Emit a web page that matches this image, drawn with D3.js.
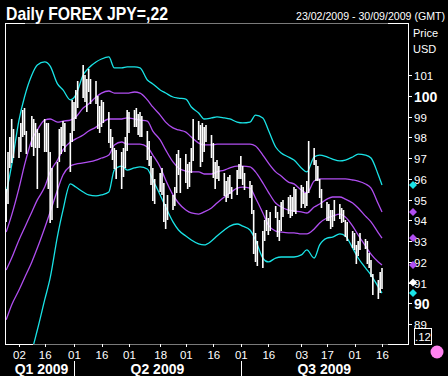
<!DOCTYPE html>
<html><head><meta charset="utf-8">
<script src="https://cdn.jsdelivr.net/npm/d3@7"></script>
<style>body{margin:0;background:#000;}svg{display:block;font-family:"Liberation Sans",Arial,sans-serif;}</style>
</head><body><svg id="c" width="448" height="376"></svg>
<script>
// ---- data ----
const title = "Daily FOREX JPY=,22";
const rangeText = "23/02/2009 - 30/09/2009 (GMT)";
const startDate = "2009-02-23";
const endDate = "2009-09-16";
const highs = [95.5,97.3,98.0,98.9,98.4, 98.0,98.7,99.3,99.4,98.3, 99.0,98.9,98.7,98.4,98.2, 98.9,98.7,98.7,97.3,96.5,
 96.8,98.4,98.5,98.8,98.7, 98.2,99.8,99.7,100.3,100.7, 101.5,101.0,100.8,101.3,100.8, 100.7,100.0,99.5,99.8,99.7,
 99.2,98.4,98.0,97.5,97.4, 97.3,97.5,98.0,99.3,99.2, 99.3,99.4,99.1,99.2,99.0, 98.3,97.8,97.1,96.5,96.0,
 96.3,96.5,95.8,94.8,95.2, 95.2,95.6,97.2,97.4,97.0, 97.2,96.7,96.8,97.5,98.9, 98.8,98.6,98.7,98.5,98.6,
 98.1,97.7,96.8,96.9,96.6, 96.3,95.9,96.1,96.2,95.6, 96.4,96.7,97.1,96.6,96.3, 95.9,95.7,94.5,93.4,93.0,
 93.5,94.0,94.5,94.1,94.4, 94.7,94.4,94.0,94.9,95.0, 95.1,95.2,95.1,95.6,95.5, 95.7,95.6,95.3,95.9,97.8,
 97.5,96.9,96.6,96.0,95.5, 94.9,94.8,94.5,94.5,95.0, 94.8,94.6,94.5,94.0,93.9, 93.5,93.4,92.8,93.0,93.4,
 93.1,93.0,92.4,92.1,91.4, 91.1,91.5,91.7];
const lows = [93.9,94.8,96.5,96.8,97.0, 97.0,97.3,98.0,98.1,97.2, 97.5,97.1,97.5,95.5,97.5, 97.3,97.3,95.5,93.9,94.0,
 94.6,96.8,97.2,97.6,97.3, 96.3,97.8,98.3,98.9,99.4, 99.9,99.7,99.2,100.2,99.6, 99.6,98.4,98.2,98.5,98.7,
 97.7,97.5,96.9,96.5,96.0, 95.5,96.1,96.5,97.3,98.2, 98.5,98.5,98.1,98.0,98.0, 96.9,96.6,95.7,94.9,94.8,
 95.4,95.2,93.9,93.6,94.0, 94.5,94.7,95.3,96.2,95.3, 95.8,95.5,95.6,96.3,96.9, 97.9,96.6,96.8,97.3,97.8,
 97.0,96.0,95.5,96.0,95.9, 95.2,94.9,95.1,95.3,95.0, 95.2,96.0,96.0,95.7,95.5, 95.1,94.3,92.4,92.0,91.8,
 91.7,93.0,93.5,93.3,93.5, 94.1,93.2,93.0,93.5,94.2, 94.3,94.1,94.2,94.4,94.3, 94.6,94.8,94.6,94.7,95.3,
 96.7,95.9,95.9,95.1,94.6, 94.0,94.0,93.6,93.7,94.0, 94.1,93.9,93.9,93.2,93.0, 92.7,92.6,91.9,92.3,92.6,
 92.6,91.9,91.7,91.3,90.4, 90.2,90.5,90.7];
const lastClose = 91.0;
const bandDates = ["2009-02-23","2009-02-26","2009-03-02","2009-03-05","2009-03-09","2009-03-12","2009-03-16","2009-03-19","2009-03-23","2009-03-26",
 "2009-03-30","2009-04-02","2009-04-06","2009-04-09","2009-04-13","2009-04-16","2009-04-20","2009-04-23","2009-04-27","2009-04-30",
 "2009-05-04","2009-05-07","2009-05-11","2009-05-14","2009-05-18","2009-05-21","2009-05-25","2009-05-28","2009-06-01","2009-06-04",
 "2009-06-08","2009-06-11","2009-06-15","2009-06-18","2009-06-22","2009-06-25","2009-06-29","2009-07-02","2009-07-06","2009-07-09",
 "2009-07-13","2009-07-16","2009-07-20","2009-07-23","2009-07-27","2009-07-30","2009-08-03","2009-08-06","2009-08-10","2009-08-13",
 "2009-08-17","2009-08-20","2009-08-24","2009-08-27","2009-08-31","2009-09-03","2009-09-07","2009-09-10","2009-09-14","2009-09-16"];
const upperOuter = [95.30,96.66,98.83,99.94,101.0,101.48,101.63,101.43,100.57,100.28, 99.80,100.04,101.0,101.34,101.63,101.77,101.87,101.34,101.34,101.39,
 101.39,101.34,100.76,100.57,100.28,100.13,99.94,99.89,99.84,99.46, 99.17,98.88,98.93,98.98,98.93,98.88,98.73,98.69,98.73,99.07,
 98.93,98.35,97.53,97.24,97.05,96.90,96.52,96.33,97.05,97.14, 97.05,96.95,96.86,96.90,97.05,97.19,97.14,97.0,96.18,95.70];
const upperInner = [93.43,94.25,95.55,96.66,97.87,98.35,98.83,98.88,98.73,98.78, 98.83,98.98,99.41,99.60,99.94,100.13,100.23,100.13,100.13,100.13,
 100.18,100.13,99.80,99.46,99.07,98.73,98.45,98.35,98.25,98.01, 97.72,97.63,97.63,97.67,97.67,97.67,97.67,97.67,97.67,97.58,
 97.14,96.76,96.33,96.13,95.84,95.75,95.46,95.31,95.89,95.99, 95.99,95.99,95.99,95.99,95.94,95.89,95.75,95.55,94.78,94.40];
const middle = [91.60,92.18,93.05,93.63,94.40,94.98,95.60,96.33,96.90,97.39, 97.77,97.92,98.11,98.30,98.49,98.69,98.88,98.88,98.88,98.93,
 98.88,98.83,98.78,98.30,97.87,97.39,96.81,96.52,96.37,96.33, 96.33,96.23,96.23,96.33,96.42,96.52,96.61,96.61,96.57,96.33,
 95.80,95.36,94.83,94.64,94.49,94.45,94.40,94.35,94.64,94.78, 95.02,95.12,95.12,95.02,94.83,94.59,94.20,93.92,93.39,93.14];
const lowerInner = [89.20,89.92,90.64,91.22,91.99,92.66,93.63,94.40,95.46,96.18, 96.61,96.71,96.76,96.81,96.90,97.0,97.14,97.63,97.77,97.67,
 97.67,97.67,97.53,97.14,96.57,95.94,95.22,94.83,94.49,94.35, 94.30,94.40,94.59,94.83,95.12,95.31,95.55,95.60,95.55,95.07,
 94.35,93.77,93.48,93.43,93.39,93.39,93.34,93.34,93.58,93.87, 94.11,94.20,94.30,94.16,93.72,93.29,92.76,92.37,91.99,91.84];
const lowerOuter = [87.51,87.70,87.27,87.31,87.75,88.71,90.16,91.22,93.24,94.49, 95.75,95.60,95.36,95.22,95.17,95.22,95.36,96.42,96.61,96.42,
 96.52,96.57,96.47,95.94,95.22,94.64,93.92,93.53,93.24,93.05, 92.86,92.81,93.0,93.24,93.53,93.72,93.82,93.72,93.53,93.05,
 92.18,91.99,92.18,92.23,92.23,92.23,92.33,92.57,92.18,92.81, 93.14,93.19,93.34,93.24,92.66,92.18,91.70,91.36,90.78,90.49];
const priceTicks = [89,90,91,92,93,94,95,96,97,98,99,100,101];
const boldTicks = [90,100];
const dateTicks = ["2009-03-02","2009-03-16","2009-04-01","2009-04-16","2009-05-01","2009-05-18","2009-06-01","2009-06-16","2009-07-01","2009-07-16","2009-08-03","2009-08-17","2009-09-01","2009-09-16"];
const quarters = [{label:"Q1 2009", from:"2009-02-20", to:"2009-04-01"},{label:"Q2 2009", from:"2009-04-01", to:"2009-07-01"},{label:"Q3 2009", from:"2009-07-01", to:"2009-09-30"}];

// ---- drawing ----
const CYAN = "#19e3e6", PURPLE = "#b04ef0", GRAY = "#7a7a7a";
const parse = d3.utcParse("%Y-%m-%d");
const svg = d3.select("#c");
svg.append("rect").attr("width",448).attr("height",376).attr("fill","#000");

const L = 5, R = 408, T = 23, B = 344;
const x = d3.scaleUtc().domain([parse("2009-03-02"), parse("2009-09-16")]).range([19, 382]);
const y = d3.scaleLinear().domain([89, 101]).range([324, 75]);

const days = d3.utcDay.range(parse(startDate), d3.utcDay.offset(parse(endDate),1)).filter(d => d.getUTCDay() !== 0 && d.getUTCDay() !== 6);
const bars = days.map((d,i) => ({d, h: highs[i], l: lows[i]}));

svg.append("clipPath").attr("id","pc").append("rect").attr("x",L+1).attr("y",T+1).attr("width",R-L-1).attr("height",B-T-1);
const plot = svg.append("g").attr("clip-path","url(#pc)");

const bd = bandDates.map(parse);
const line = d3.line().x((v,i)=>x(bd[i])).y(v=>y(v)).curve(d3.curveMonotoneX);
[[upperOuter,CYAN],[upperInner,PURPLE],[middle,PURPLE],[lowerInner,PURPLE],[lowerOuter,CYAN]].forEach(([s,c])=>{
  plot.append("path").attr("d", line(s)).attr("fill","none").attr("stroke",c).attr("stroke-width",1.3);
});

plot.selectAll("rect.bar").data(bars).join("rect").attr("class","bar")
  .attr("x", b => x(b.d) - 0.8).attr("width", 1.6)
  .attr("y", b => Math.round(y(b.h))).attr("height", b => Math.max(1, Math.round(y(b.l) - y(b.h))))
  .attr("fill","#fff");

// frame
const fr = svg.append("g").attr("shape-rendering","crispEdges").attr("stroke-width",1);
fr.append("line").attr("x1",L).attr("x2",L).attr("y1",T).attr("y2",B).attr("stroke","#fff");
fr.append("line").attr("x1",L).attr("x2",25).attr("y1",T).attr("y2",T).attr("stroke","#fff");
fr.append("line").attr("x1",25).attr("x2",388).attr("y1",T).attr("y2",T).attr("stroke",GRAY);
fr.append("line").attr("x1",388).attr("x2",R).attr("y1",T).attr("y2",T).attr("stroke","#fff");
fr.append("line").attr("x1",L).attr("x2",33).attr("y1",B).attr("y2",B).attr("stroke","#fff");
fr.append("line").attr("x1",33).attr("x2",388).attr("y1",B).attr("y2",B).attr("stroke",GRAY);
fr.append("line").attr("x1",388).attr("x2",R+1).attr("y1",B).attr("y2",B).attr("stroke","#fff");

// right axis
const ya = svg.append("g").attr("transform",`translate(${R},0)`)
  .call(d3.axisRight(y).tickValues(priceTicks).tickSize(4).tickPadding(2).tickFormat(d3.format("d")));
ya.select(".domain").attr("stroke","#fff").attr("d",`M0,${T}V${B}`).attr("shape-rendering","crispEdges");
ya.selectAll(".tick line").attr("stroke","#fff").attr("shape-rendering","crispEdges");
ya.selectAll(".tick text").attr("fill","#fff").attr("font-family","Liberation Sans, Arial, sans-serif")
  .attr("font-size", d => boldTicks.includes(d) ? 14 : 11.5)
  .attr("font-weight", d => boldTicks.includes(d) ? "bold" : "normal")
  .attr("dy","0.4em");

svg.append("text").attr("x",413).attr("y",37).text("Price").attr("fill","#fff").attr("font-size",11);
svg.append("text").attr("x",413).attr("y",53).text("USD").attr("fill","#fff").attr("font-size",11);

// end markers
const ends = [[upperOuter[upperOuter.length-1],CYAN],[upperInner[upperInner.length-1],PURPLE],[middle[middle.length-1],PURPLE],
  [lowerInner[lowerInner.length-1],PURPLE],[lastClose,"#fff"],[lowerOuter[lowerOuter.length-1],CYAN]];
svg.selectAll("path.mk").data(ends).join("path").attr("class","mk")
  .attr("d", d3.symbol(d3.symbolSquare, 32)())
  .attr("transform", d => `translate(413,${y(d[0])}) rotate(45)`).attr("fill", d => d[1]);

// .12 box
svg.append("rect").attr("x",414.5).attr("y",328.5).attr("width",17).attr("height",16).attr("fill","none").attr("stroke","#fff").attr("shape-rendering","crispEdges");
svg.append("text").attr("x",423).attr("y",341).attr("text-anchor","middle").text(".12").attr("fill","#fff").attr("font-size",11.5);
svg.append("circle").attr("cx",437).attr("cy",352).attr("r",6.5).attr("fill","#ff82f0");

// bottom axis
const xa = svg.append("g").attr("transform",`translate(0,${B})`)
  .call(d3.axisBottom(x).tickValues(dateTicks.map(parse)).tickSize(3).tickPadding(4).tickFormat(d3.utcFormat("%d")));
xa.select(".domain").remove();
xa.selectAll(".tick line").attr("stroke","#fff").attr("shape-rendering","crispEdges");
xa.selectAll(".tick text").attr("fill","#fff").attr("font-size",11.5).attr("font-family","Liberation Sans, Arial, sans-serif");

// quarters
quarters.forEach((q,i) => {
  const a = Math.max(L, x(parse(q.from))), b = Math.min(R, x(parse(q.to)));
  svg.append("text").attr("x",(a+b)/2 + (i===0?2:0)).attr("y",374).attr("text-anchor","middle").text(q.label)
    .attr("fill","#fff").attr("font-weight","bold").attr("font-size",14);
  if (i > 0) svg.append("line").attr("x1",Math.round(a)+0.5).attr("x2",Math.round(a)+0.5).attr("y1",361).attr("y2",376).attr("stroke","#fff");
});

// header
svg.append("text").attr("x",6).attr("y",20).text(title).attr("fill","#fff").attr("font-weight","bold").attr("font-size",19)
  .attr("textLength",162).attr("lengthAdjust","spacingAndGlyphs");
svg.append("text").attr("x",445).attr("y",20).attr("text-anchor","end").text(rangeText).attr("fill","#fff").attr("font-size",10.6);
</script></body></html>
